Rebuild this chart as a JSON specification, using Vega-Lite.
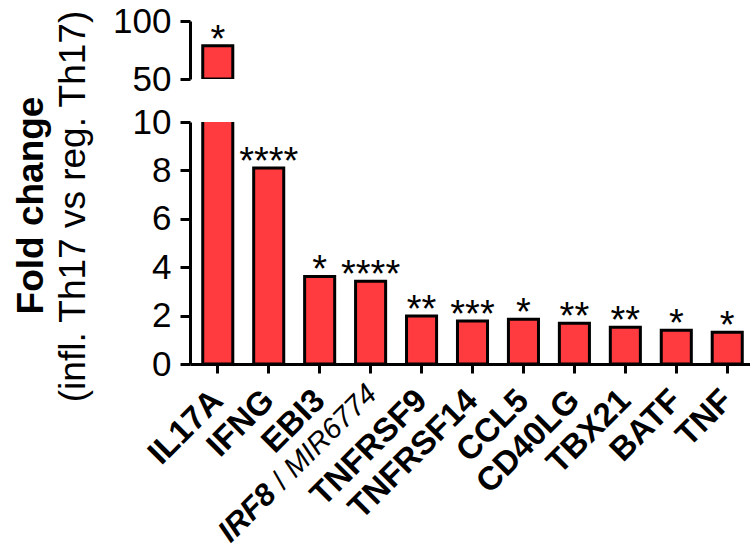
{
  "$schema": "https://vega.github.io/schema/vega-lite/v6.json",
  "padding": {"left": 11, "top": 4, "right": 0, "bottom": 0},
  "background": "white",
  "config": {
    "font": "Liberation Sans",
    "view": {"stroke": null},
    "axis": {
      "domainColor": "black", "domainWidth": 3, "tickColor": "black", "tickWidth": 3,
      "labelColor": "black", "labelFontSize": 35, "grid": false, "titleColor": "black"
    }
  },
  "datasets": {
    "genes": [
      {"gene": "IL17A", "value": 78.6, "stars": "*"},
      {"gene": "IFNG", "value": 8.1, "stars": "****"},
      {"gene": "EBI3", "value": 3.62, "stars": "*"},
      {"gene": "IRF8", "value": 3.42, "stars": "****"},
      {"gene": "TNFRSF9", "value": 1.98, "stars": "**"},
      {"gene": "TNFRSF14", "value": 1.78, "stars": "***"},
      {"gene": "CCL5", "value": 1.85, "stars": "*"},
      {"gene": "CD40LG", "value": 1.68, "stars": "**"},
      {"gene": "TBX21", "value": 1.52, "stars": "**"},
      {"gene": "BATF", "value": 1.39, "stars": "*"},
      {"gene": "TNF", "value": 1.31, "stars": "*"}
    ]
  },
  "spacing": 43,
  "bounds": "flush",
  "resolve": {"scale": {"y": "independent"}},
  "vconcat": [
    {
      "width": 565, "height": 58,
      "data": {"name": "genes"},
      "transform": [{"filter": "datum.gene == 'IL17A'"}],
      "encoding": {
        "x": {"field": "gene", "type": "nominal", "sort": null,
              "scale": {"domain": ["IL17A","IFNG","EBI3","IRF8","TNFRSF9","TNFRSF14","CCL5","CD40LG","TBX21","BATF","TNF"], "paddingInner": 0.41, "paddingOuter": 0.25},
              "axis": null},
        "y": {"field": "value", "type": "quantitative",
              "scale": {"domain": [50, 100], "nice": false, "zero": false},
              "axis": {"values": [50, 100], "tickSize": 10, "labelPadding": 9,
                       "title": "Fold change", "titleFontSize": 37, "titleFontWeight": "bold",
                       "titleAngle": -90, "titleX": -159, "titleY": 184, "titleAlign": "center", "titleBaseline": "middle"}}
      },
      "layer": [
        {"mark": {"type": "bar", "fill": "#FF3B3F", "stroke": "black", "strokeWidth": 3, "clip": true},
         "encoding": {"y2": {"datum": 50}}},
        {"mark": {"type": "text", "fontSize": 38, "baseline": "alphabetic", "dy": 6, "color": "black"},
         "encoding": {"text": {"field": "stars"}}}
      ]
    },
    {
      "width": 565, "height": 242,
      "data": {"name": "genes"},
      "encoding": {
        "x": {"field": "gene", "type": "nominal", "sort": null,
              "scale": {"domain": ["IL17A","IFNG","EBI3","IRF8","TNFRSF9","TNFRSF14","CCL5","CD40LG","TBX21","BATF","TNF"], "paddingInner": 0.41, "paddingOuter": 0.25},
              "axis": {"title": null, "labelAngle": -45, "labelAlign": "right", "labelBaseline": "middle",
                       "labelFontWeight": "bold", "labelFontSize": 33, "tickSize": 9, "labelPadding": 22,
                       "labelExpr": "datum.value == 'IRF8' ? '' : datum.value"}}
      },
      "layer": [
        {"mark": {"type": "bar", "fill": "#FF3B3F", "stroke": "black", "strokeWidth": 3, "clip": true},
         "encoding": {
           "y": {"field": "value", "type": "quantitative",
                 "scale": {"domain": [0, 10], "nice": false},
                 "axis": {"values": [0, 2, 4, 6, 8, 10], "tickSize": 10, "labelPadding": 9,
                          "title": "(infl. Th17 vs reg. Th17)", "titleFontSize": 37, "titleFontWeight": "normal",
                          "titleAngle": -90, "titleX": -117, "titleY": 84, "titleAlign": "center", "titleBaseline": "middle"}}
         }},
        {"transform": [{"filter": "datum.gene != 'IL17A'"}],
         "mark": {"type": "text", "fontSize": 38, "baseline": "alphabetic", "dy": 6, "color": "black"},
         "encoding": {"y": {"field": "value", "type": "quantitative"}, "text": {"field": "stars"}}},
        {"transform": [{"filter": "datum.gene == 'IRF8'"}],
         "mark": {"type": "text", "fontSize": 29, "fontStyle": "italic", "fontWeight": "normal", "angle": -45, "align": "right", "baseline": "middle", "dx": -17, "dy": 19.1, "color": "black"},
         "encoding": {"y": {"datum": 0, "type": "quantitative"}, "text": {"value": "MIR6774"}}},
        {"transform": [{"filter": "datum.gene == 'IRF8'"}],
         "mark": {"type": "text", "fontSize": 29, "fontWeight": "normal", "angle": -45, "align": "right", "baseline": "middle", "dx": -142.8, "dy": 19.1, "color": "black"},
         "encoding": {"y": {"datum": 0, "type": "quantitative"}, "text": {"value": "/"}}},
        {"transform": [{"filter": "datum.gene == 'IRF8'"}],
         "mark": {"type": "text", "fontSize": 31, "fontStyle": "italic", "fontWeight": "bold", "angle": -45, "align": "right", "baseline": "middle", "dx": -159, "dy": 19.1, "color": "black"},
         "encoding": {"y": {"datum": 0, "type": "quantitative"}, "text": {"value": "IRF8"}}}
      ]
    }
  ]
}
